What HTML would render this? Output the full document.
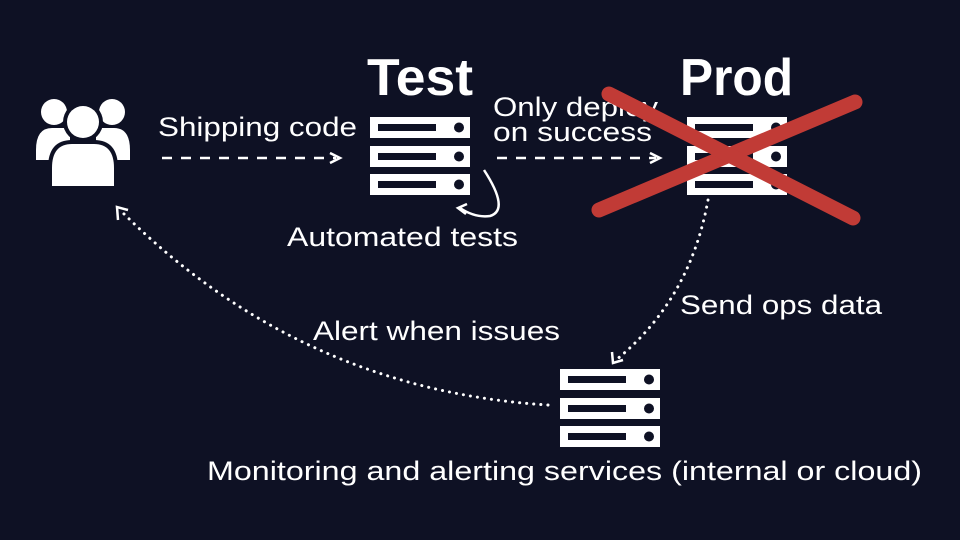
<!DOCTYPE html>
<html><head><meta charset="utf-8"><style>
html,body{margin:0;padding:0;background:#0e1124;}
svg{display:block}
text{font-family:"Liberation Sans",sans-serif;fill:#fff;}
</style></head><body>
<svg width="960" height="540" viewBox="0 0 960 540" xmlns="http://www.w3.org/2000/svg">
<rect width="960" height="540" fill="#0e1124"/>
<defs>
<g id="srv">
 <rect x="0" y="0" width="100" height="21" fill="#fff"/>
 <rect x="8" y="7" width="58" height="7" fill="#0e1124"/>
 <circle cx="89" cy="10.5" r="5" fill="#0e1124"/>
 <rect x="0" y="29" width="100" height="21" fill="#fff"/>
 <rect x="8" y="36" width="58" height="7" fill="#0e1124"/>
 <circle cx="89" cy="39.5" r="5" fill="#0e1124"/>
 <rect x="0" y="57" width="100" height="21" fill="#fff"/>
 <rect x="8" y="64" width="58" height="7" fill="#0e1124"/>
 <circle cx="89" cy="67.5" r="5" fill="#0e1124"/>
</g>
</defs>
<g fill="#fff">
 <circle cx="54" cy="112" r="13"/>
 <circle cx="112" cy="112" r="13"/>
 <path d="M36 150 Q36 128 52 128 L70 128 L70 160 L36 160 Z"/>
 <path d="M130 150 Q130 128 114 128 L96 128 L96 160 L130 160 Z"/>
 <circle cx="83" cy="122" r="20" fill="#0e1124"/>
 <circle cx="83" cy="122" r="16"/>
 <path d="M50 188 L50 168 Q50 142 72 142 L94 142 Q116 142 116 168 L116 188 Z" stroke="#0e1124" stroke-width="4"/>
</g>
<text x="367" y="95" font-size="52" font-weight="bold" textLength="106" lengthAdjust="spacingAndGlyphs">Test</text>
<use href="#srv" x="370" y="117"/>
<text x="680" y="95" font-size="52" font-weight="bold" textLength="113" lengthAdjust="spacingAndGlyphs">Prod</text>
<use href="#srv" x="687" y="117"/>
<use href="#srv" x="560" y="369"/>
<g font-size="27">
<text x="158" y="136" textLength="199" lengthAdjust="spacingAndGlyphs">Shipping code</text>
<text x="493" y="116" textLength="165" lengthAdjust="spacingAndGlyphs">Only deploy</text>
<text x="493" y="141" textLength="159" lengthAdjust="spacingAndGlyphs">on success</text>
<text x="287" y="246" textLength="231" lengthAdjust="spacingAndGlyphs">Automated tests</text>
<text x="680" y="314" textLength="202" lengthAdjust="spacingAndGlyphs">Send ops data</text>
<text x="313" y="340" textLength="247" lengthAdjust="spacingAndGlyphs">Alert when issues</text>
<text x="207" y="480" textLength="715" lengthAdjust="spacingAndGlyphs">Monitoring and alerting services (internal or cloud)</text>
</g>
<g stroke="#fff" stroke-width="2.5" fill="none">
 <line x1="162" y1="158" x2="336" y2="158" stroke-dasharray="10 9"/>
 <path d="M330 153 L340 158 L330 163"/>
 <line x1="497" y1="158" x2="656" y2="158" stroke-dasharray="10 9"/>
 <path d="M650 153 L660 158 L650 163"/>
 <path d="M484 170 Q510 210 490 216 Q475 218 460 208"/>
 <path d="M467 204 L458 208 L466 214"/>
 <path d="M708 200 Q690 300 616 360" stroke-width="3" stroke-dasharray="0.1 7" stroke-linecap="round"/>
 <path d="M612 352 L613 363 L623 360"/>
 <path d="M548 405 Q300 390 120 210" stroke-width="3" stroke-dasharray="0.1 7" stroke-linecap="round"/>
 <path d="M118 220 L117 207 L128 210"/>
</g>
<g stroke="#c13b36" stroke-width="15" stroke-linecap="round">
 <line x1="599" y1="210" x2="855" y2="102"/>
 <line x1="609" y1="94" x2="853" y2="218"/>
</g>
</svg>
</body></html>
